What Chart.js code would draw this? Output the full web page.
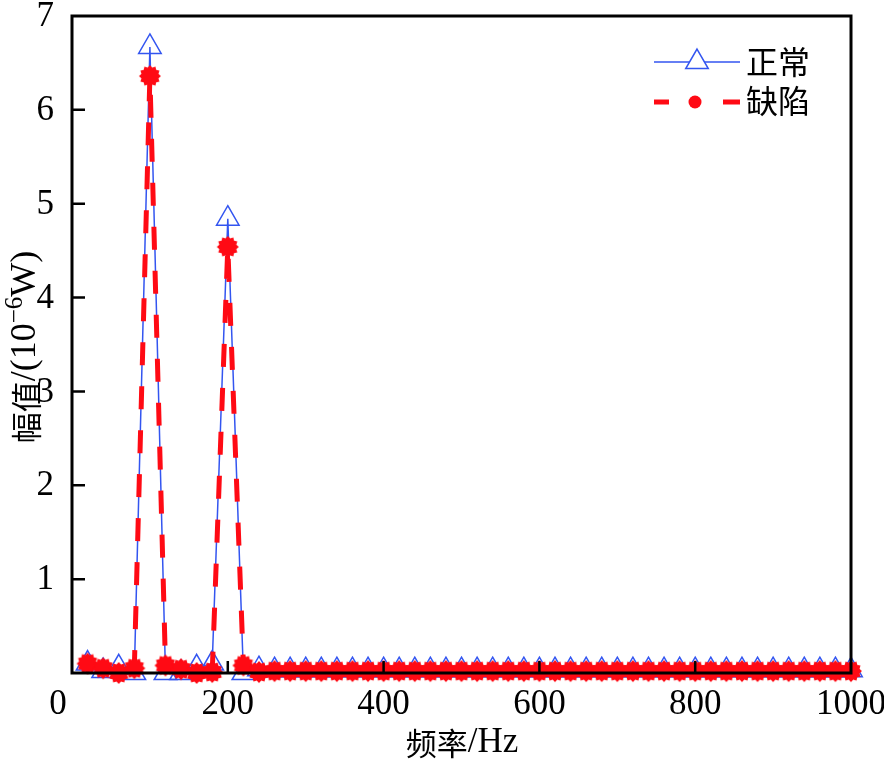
<!DOCTYPE html>
<html>
<head>
<meta charset="utf-8">
<script src="https://cdn.jsdelivr.net/npm/chart.js@4.4.1/dist/chart.umd.min.js"></script>
<style>
    html, body { margin: 0; padding: 0; background: #fff; }
    #wrap { width: 884px; height: 761px; }
</style>
</head>
<body>
<div id="wrap"><canvas id="chart"></canvas></div>
<script>
// ===== DATA =====
const freqs = [20, 40, 60, 80, 100, 120, 140, 160, 180, 200,
    220, 240, 260, 280, 300, 320, 340, 360, 380, 400,
    420, 440, 460, 480, 500, 520, 540, 560, 580, 600,
    620, 640, 660, 680, 700, 720, 740, 760, 780, 800,
    820, 840, 860, 880, 900, 920, 940, 960, 980, 1000];

// 正常 (blue, triangles)
const normalVals = [0.10, 0.02, 0.06, 0.00, 6.67, 0.00, 0.00, 0.06, 0.10, 4.84,
    0.00, 0.04, 0.03, 0.03, 0.03, 0.03, 0.03, 0.03, 0.03, 0.03,
    0.03, 0.03, 0.03, 0.03, 0.03, 0.03, 0.03, 0.03, 0.03, 0.03,
    0.03, 0.03, 0.03, 0.03, 0.03, 0.03, 0.03, 0.03, 0.03, 0.03,
    0.03, 0.03, 0.03, 0.03, 0.03, 0.03, 0.03, 0.03, 0.03, 0.03];

// 缺陷 (red, dashed)
const defectVals = [0.10, 0.05, 0.00, 0.05, 6.36, 0.08, 0.04, 0.00, 0.01, 4.54,
    0.08, 0.01, 0.02, 0.02, 0.02, 0.02, 0.02, 0.02, 0.02, 0.02,
    0.02, 0.02, 0.02, 0.02, 0.02, 0.02, 0.02, 0.02, 0.02, 0.02,
    0.02, 0.02, 0.02, 0.02, 0.02, 0.02, 0.02, 0.02, 0.02, 0.02,
    0.02, 0.02, 0.02, 0.02, 0.02, 0.02, 0.02, 0.02, 0.02, 0.02];

const xTicks = [0, 200, 400, 600, 800, 1000];
const yTicks = [1, 2, 3, 4, 5, 6, 7];

const BLUE = "#3355f0";
const RED = "#ff0a14";
const LATIN = '"Liberation Serif", "Times New Roman", serif';
const CJK = '"Noto Sans CJK SC", sans-serif';

// ===== MARKERS =====
// red gear-like blob used for the 缺陷 points
function makeBlob(r) {
    const cv = document.createElement("canvas");
    const s = Math.ceil(r * 2 + 2);
    cv.width = s;
    cv.height = s;
    const g = cv.getContext("2d");
    g.fillStyle = RED;
    g.beginPath();
    for (let i = 0; i < 24; i++) {
        const a = (i * Math.PI) / 12;
        const rr = i % 2 ? r * 0.8 : r;
        g.lineTo(s / 2 + rr * Math.cos(a), s / 2 + rr * Math.sin(a));
    }
    g.closePath();
    g.fill();
    return cv;
}
const redBlob = makeBlob(11);

function triPath(ctx, x, y, r) {
    ctx.beginPath();
    ctx.moveTo(x, y - r);
    ctx.lineTo(x + r * Math.sin((2 * Math.PI) / 3), y - r * Math.cos((2 * Math.PI) / 3));
    ctx.lineTo(x + r * Math.sin((4 * Math.PI) / 3), y - r * Math.cos((4 * Math.PI) / 3));
    ctx.closePath();
}

// draw mixed runs of text centred on (0,0) of the current transform
function drawRuns(ctx, parts) {
    let total = 0;
    parts.forEach((p) => {
        ctx.font = p.f;
        p.w = ctx.measureText(p.t).width;
        total += p.w;
    });
    let cx = -total / 2;
    ctx.textAlign = "left";
    ctx.textBaseline = "middle";
    parts.forEach((p) => {
        ctx.font = p.f;
        ctx.fillText(p.t, cx, p.dy || 0);
        cx += p.w;
    });
}

// ===== AXES / LEGEND PLUGIN =====
const frame = {
    id: "frame",
    afterDatasetsDraw(chart) {
        const ctx = chart.ctx;
        const a = chart.chartArea;
        const xs = chart.scales.x;
        const ys = chart.scales.y;
        ctx.save();

        // box
        ctx.strokeStyle = "#000";
        ctx.lineWidth = 3;
        ctx.strokeRect(a.left, a.top, a.right - a.left, a.bottom - a.top);

        // inward ticks
        ctx.lineWidth = 2.5;
        ctx.beginPath();
        yTicks.forEach((v) => {
            if (v >= 7) return;
            const py = ys.getPixelForValue(v);
            ctx.moveTo(a.left, py);
            ctx.lineTo(a.left + 13, py);
        });
        xTicks.forEach((v) => {
            if (v <= 0 || v >= 1000) return;
            const px = xs.getPixelForValue(v);
            ctx.moveTo(px, a.bottom);
            ctx.lineTo(px, a.bottom - 12);
        });
        ctx.stroke();

        // tick labels
        ctx.fillStyle = "#000";
        ctx.font = "35px " + LATIN;
        ctx.textBaseline = "middle";
        ctx.textAlign = "right";
        yTicks.forEach((v) => {
            ctx.fillText(String(v), a.left - 18, ys.getPixelForValue(v) + 1);
        });
        ctx.textAlign = "center";
        xTicks.forEach((v) => {
            let px = xs.getPixelForValue(v);
            if (v === 0) px -= 14;
            ctx.fillText(String(v), px, a.bottom + 32);
        });

        // x title
        ctx.translate(462, 743);
        drawRuns(ctx, [
            { t: "频率", f: "31px " + CJK },
            { t: "/Hz", f: "35px " + LATIN },
        ]);
        ctx.setTransform(1, 0, 0, 1, 0, 0);

        // y title with superscript
        const dpr = chart.currentDevicePixelRatio || 1;
        ctx.setTransform(dpr, 0, 0, dpr, 0, 0);
        ctx.translate(26, 347);
        ctx.rotate(-Math.PI / 2);
        drawRuns(ctx, [
            { t: "幅值", f: "31px " + CJK },
            { t: "/(10", f: "36px " + LATIN },
            { t: "−6", f: "25px " + LATIN, dy: -11 },
            { t: "W)", f: "36px " + LATIN },
        ]);
        ctx.restore();

        // legend
        ctx.save();
        ctx.setTransform(dpr, 0, 0, dpr, 0, 0);
        ctx.strokeStyle = BLUE;
        ctx.lineWidth = 1.5;
        ctx.beginPath();
        ctx.moveTo(654, 62);
        ctx.lineTo(740, 62);
        ctx.stroke();
        ctx.fillStyle = "#fff";
        triPath(ctx, 697, 62, 13);
        ctx.fill();
        ctx.stroke();

        ctx.strokeStyle = RED;
        ctx.lineWidth = 5;
        ctx.beginPath();
        ctx.moveTo(654, 102);
        ctx.lineTo(669, 102);
        ctx.moveTo(723, 102);
        ctx.lineTo(740, 102);
        ctx.stroke();
        ctx.fillStyle = RED;
        ctx.beginPath();
        ctx.arc(695, 102, 6.5, 0, Math.PI * 2);
        ctx.fill();

        ctx.fillStyle = "#000";
        ctx.font = "32px " + CJK;
        ctx.textAlign = "left";
        ctx.textBaseline = "middle";
        ctx.fillText("正常", 746, 62);
        ctx.fillText("缺陷", 746, 101);
        ctx.restore();
    },
};

// ===== CHART =====
const ctx = document.getElementById("chart").getContext("2d");
new Chart(ctx, {
    type: "line",
    data: {
        datasets: [
            {
                label: "正常",
                data: freqs.map((f, i) => ({ x: f, y: normalVals[i] })),
                borderColor: BLUE,
                borderWidth: 1.5,
                pointStyle: "triangle",
                pointRadius: 13,
                pointBorderWidth: 1.5,
                pointBorderColor: BLUE,
                pointBackgroundColor: "rgba(0,0,0,0)",
                tension: 0,
                clip: false,
                order: 2,
            },
            {
                label: "缺陷",
                data: freqs.map((f, i) => ({ x: f, y: defectVals[i] })),
                borderColor: RED,
                borderWidth: 5,
                borderDash: [23, 21],
                pointStyle: redBlob,
                pointRadius: 11,
                tension: 0,
                clip: false,
                order: 1,
            },
        ],
    },
    options: {
        responsive: true,
        maintainAspectRatio: false,
        animation: false,
        layout: { padding: { left: 72, top: 12, right: 33, bottom: 88 } },
        scales: {
            x: { type: "linear", min: 0, max: 1000, display: false },
            y: { min: 0, max: 7, display: false },
        },
        plugins: {
            legend: { display: false },
            tooltip: { enabled: false },
        },
    },
    plugins: [frame],
});
</script>
</body>
</html>
